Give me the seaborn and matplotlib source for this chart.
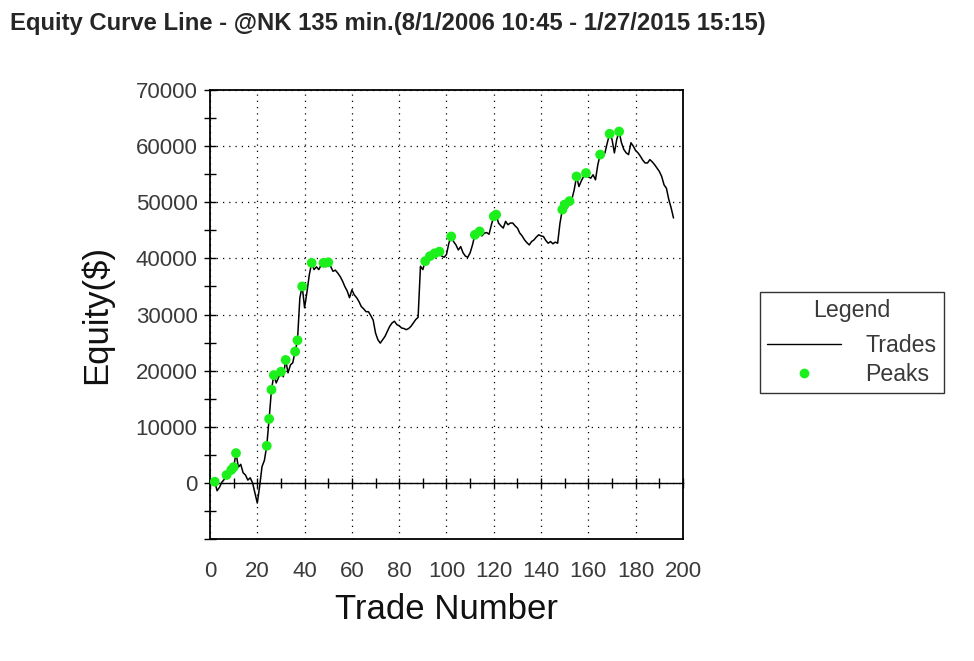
import numpy as np
import pandas as pd
import matplotlib
matplotlib.use("Agg")
import matplotlib.pyplot as plt
from matplotlib.lines import Line2D
from matplotlib.ticker import MultipleLocator, FuncFormatter
import seaborn as sns

# equity after each trade (trade 0 .. 196)
equity = [
    0, -300, 200, -1400, -800, 100, 600, 1400, 1800, 2300,       # 0-9
    2800, 5300, 2800, 3300, 1800, 1400, 500, 900, 0, -1800,      # 10-19
    -3600, -600, 2900, 4000, 6600, 11400, 16600, 19200, 17800, 18800,  # 20-29
    19800, 18900, 21900, 19600, 21000, 21400, 23400, 25400, 33000, 35000,  # 30-39
    31200, 34000, 37100, 39200, 38000, 38500, 38000, 38800, 39200, 38500,  # 40-49
    39300, 38600, 37700, 37900, 37400, 36800, 36000, 35000, 34200, 33000,  # 50-59
    34400, 33500, 33000, 32300, 31400, 31000, 30500, 30500, 29800, 29000,  # 60-69
    26700, 25500, 24900, 25500, 26100, 27000, 27900, 28500, 28800, 28200,  # 70-79
    28000, 27600, 27500, 27300, 27500, 27900, 28500, 29100, 29500, 38600,  # 80-89
    38000, 39500, 39000, 40400, 40000, 40900, 40600, 41200, 40400, 40200,  # 90-99
    40700, 42700, 43900, 43000, 42400, 41500, 42100, 41000, 40400, 40200,  # 100-109
    41000, 42400, 44200, 43800, 44800, 44000, 44500, 44600, 44300, 46000,  # 110-119
    47500, 47800, 46300, 45800, 45400, 46600, 46000, 46300, 46300, 45800,  # 120-129
    45400, 44500, 44000, 43300, 42800, 42400, 43000, 43300, 43800, 44200,  # 130-139
    44000, 43900, 43200, 42700, 43000, 42600, 42900, 42700, 46300, 48700,  # 140-149
    49600, 49000, 50200, 50500, 52200, 54600, 52800, 53800, 54600, 55200,  # 150-159
    54500, 54300, 54900, 54000, 56700, 58500, 58200, 58800, 60600, 62200,  # 160-169
    61200, 58800, 61200, 62600, 60600, 59400, 58800, 58500, 60600, 60000,  # 170-179
    59200, 58800, 58200, 57500, 57000, 57000, 57600, 57200, 56700, 56100,  # 180-189
    55500, 54600, 53100, 52500, 50500, 49000, 47200,                       # 190-196
]
trades = list(range(len(equity)))

# trades marked as new equity peaks
peak_trades = [2, 7, 9, 10, 11, 24, 25, 26, 27, 30, 32, 36, 37, 39, 43, 48, 50,
               91, 93, 95, 97, 102, 112, 114, 120, 121,
               149, 150, 152, 155, 159, 165, 169, 173]
peak_equity = [equity[t] for t in peak_trades]

title = "Equity Curve Line - @NK 135 min.(8/1/2006 10:45 - 1/27/2015 15:15)"
green = "#1cf01c"
grey_txt = "#3a3a3a"

sns.set_style("white")
plt.rcParams['font.family'] = ['Liberation Sans', 'DejaVu Sans']

fig = plt.figure(figsize=(9.74, 6.61), dpi=100)
ax = fig.add_axes([0.2156, 0.1846, 0.4856, 0.6792])

df = pd.DataFrame({'Trade': trades, 'Equity': equity})
sns.lineplot(data=df, x='Trade', y='Equity', color='black', lw=1.1, ax=ax, zorder=3)
pk = pd.DataFrame({'Trade': peak_trades, 'Equity': peak_equity})
sns.scatterplot(data=pk, x='Trade', y='Equity', color=green, s=50,
                edgecolor='none', ax=ax, zorder=4)

ax.set_xlim(0, 200)
ax.set_ylim(-10000, 70000)

for s in ['left', 'right', 'top']:
    ax.spines[s].set_color('black')
    ax.spines[s].set_linewidth(1.3)
# x axis line sits on the zero level
ax.spines['bottom'].set_position(('data', 0))
ax.spines['bottom'].set_color('black')
ax.spines['bottom'].set_linewidth(1.0)

ax.xaxis.set_major_locator(MultipleLocator(20))
ax.xaxis.set_minor_locator(MultipleLocator(10))
ax.tick_params(axis='x', which='both', direction='inout', length=7, width=1,
               color='black', labelbottom=False, bottom=True)

ax.yaxis.set_major_locator(MultipleLocator(10000))
ax.yaxis.set_minor_locator(MultipleLocator(5000))
ax.yaxis.set_major_formatter(FuncFormatter(lambda v, p: '' if v < 0 else f'{v:.0f}'))
ax.tick_params(axis='y', which='both', direction='inout', length=8, width=1,
               color='black', left=True, labelsize=16, labelcolor=grey_txt, pad=5)

ax.grid(True, which='major', ls=(0, (1, 4)), color='black', lw=0.9)

# tick labels along the bottom frame
sec = ax.secondary_xaxis('bottom')
sec.set_xticks(range(0, 201, 20))
sec.tick_params(length=0, pad=16, labelsize=16, labelcolor=grey_txt)
sec.spines['bottom'].set_linewidth(1.3)
sec.spines['bottom'].set_color('black')

ax.set_xlabel('Trade Number', fontsize=25, color='#111111')
ax.xaxis.set_label_coords(0.5, -0.12)
ax.set_ylabel('Equity($)', fontsize=25, color='#111111')
ax.yaxis.set_label_coords(-0.205, 0.5)

fig.text(0.0103, 0.964, title, fontsize=17.2, fontweight='bold', ha='left', va='center')

handles = [Line2D([], [], color='black', lw=1),
           Line2D([], [], marker='o', ls='none', color=green, markersize=6)]
leg = fig.legend(handles, ['Trades', 'Peaks'], title='Legend', loc='upper left',
                 bbox_to_anchor=(0.7803, 0.5583), frameon=True, fancybox=False,
                 edgecolor='black', fontsize=16.7, title_fontsize=16.7,
                 handlelength=3.2, handletextpad=1.05, labelspacing=0.26,
                 borderpad=0.3, borderaxespad=0, labelcolor=grey_txt)
leg.get_frame().set_linewidth(1.0)
leg.get_title().set_color(grey_txt)
leg._legend_box.sep = 8.8  # gap between the title and the entries

fig.savefig('out.png', dpi=100)
